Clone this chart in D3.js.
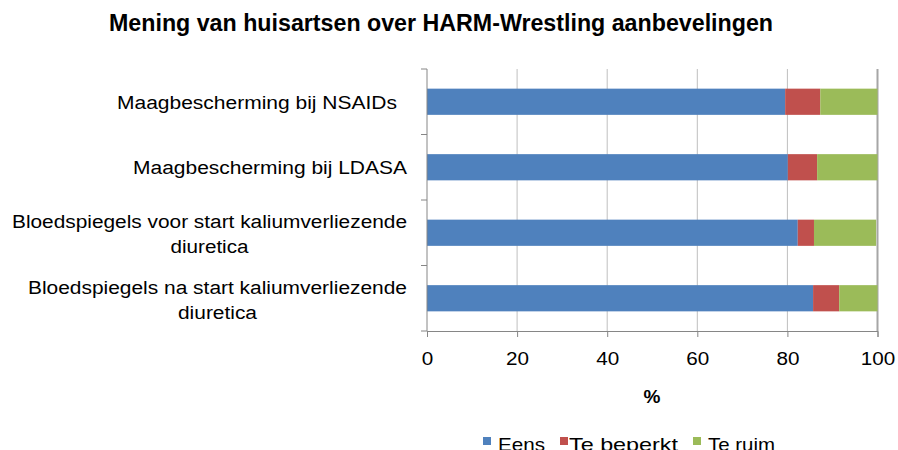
<!DOCTYPE html>
<html>
<head>
<meta charset="utf-8">
<script src="https://cdn.jsdelivr.net/npm/d3@7"></script>
<style>
  body { margin: 0; background: #fff; }
  svg text { font-family: "Liberation Sans", Arial, sans-serif; fill: #000; }
</style>
</head>
<body>
<svg width="898" height="450"></svg>
<script>
const categories = [
  "Maagbescherming bij NSAIDs ",
  "Maagbescherming bij LDASA",
  "Bloedspiegels voor start kaliumverliezende diuretica",
  "Bloedspiegels na start kaliumverliezende diuretica"
];
const labelLines = [
  ["Maagbescherming bij NSAIDs"],
  ["Maagbescherming bij LDASA"],
  ["Bloedspiegels voor start kaliumverliezende", "diuretica"],
  ["Bloedspiegels na start kaliumverliezende", "diuretica"]
];
const seriesNames = ["Eens", "Te beperkt", "Te ruim"];
const eens = [79.5, 80.1, 82.3, 85.7];
const teBeperkt = [7.8, 6.5, 3.6, 5.8];
const teRuim = [12.7, 13.4, 13.8, 8.5];
const xTicks = [0, 20, 40, 60, 80, 100];
const colors = ["#4F81BD", "#C0504D", "#9BBB59"];

const svg = d3.select("svg");

const x = d3.scaleLinear().domain([0, 100]).range([427, 877.5]);
const y = d3.scaleBand().domain(categories).range([69, 331]).paddingInner(0.6).paddingOuter(0.3);

// stretch a text element so it spans a given width (the reference font is wider)
function fitWidth(sel, w) {
  sel.attr("textLength", w).attr("lengthAdjust", "spacingAndGlyphs");
}

// title
svg.append("text")
  .attr("x", 441).attr("y", 31)
  .attr("text-anchor", "middle")
  .attr("textLength", 664)
  .attr("lengthAdjust", "spacingAndGlyphs")
  .style("font-weight", "bold")
  .style("font-size", "23px")
  .text("Mening van huisartsen over HARM-Wrestling aanbevelingen");

// gridlines
svg.append("g")
  .selectAll("line")
  .data(xTicks.slice(1))
  .enter().append("line")
  .attr("x1", d => x(d)).attr("x2", d => x(d))
  .attr("y1", 69).attr("y2", 331)
  .attr("stroke", d => d === 100 ? "#A6A6A6" : "#BFBFBF")
  .attr("stroke-width", d => d === 100 ? 2 : 1);

// stacked bars
const rows = categories.map((c, i) => ({cat: c, Eens: eens[i], "Te beperkt": teBeperkt[i], "Te ruim": teRuim[i]}));
const stack = d3.stack().keys(seriesNames)(rows);

svg.append("g")
  .selectAll("g")
  .data(stack)
  .enter().append("g")
  .attr("fill", (d, i) => colors[i])
  .selectAll("rect")
  .data(d => d)
  .enter().append("rect")
  .attr("x", d => x(d[0]))
  .attr("y", d => y(d.data.cat))
  .attr("width", d => x(d[1]) - x(d[0]))
  .attr("height", y.bandwidth());

// y axis line and ticks at category boundaries
const yAxis = svg.append("g");
yAxis.append("line")
  .attr("x1", 427).attr("x2", 427).attr("y1", 69).attr("y2", 331)
  .attr("stroke", "#868686");
const bounds = d3.range(categories.length + 1).map(i => 69 + i * (262 / categories.length));
yAxis.selectAll(".yt")
  .data(bounds)
  .enter().append("line")
  .attr("class", "yt")
  .attr("x1", 421).attr("x2", 427)
  .attr("y1", d => d).attr("y2", d => d)
  .attr("stroke", "#868686");

// category labels, wrapped lines centred on each other like excel does
const lineWidths = [[280], [274], [395, 78], [379, 79]];
const labelRight = [397, 407, 407, 407];
categories.forEach((c, i) => {
  const lines = labelLines[i];
  const cy = y(c) + y.bandwidth() / 2;
  const lh = 25;
  const blockW = lineWidths[i][0];
  const cx = labelRight[i] - blockW / 2;
  lines.forEach((ln, j) => {
    svg.append("text")
      .attr("x", cx)
      .attr("y", cy + 7 + (j - (lines.length - 1) / 2) * lh + (lines.length > 1 ? 1 : 0))
      .attr("text-anchor", "middle")
      .style("font-size", "18px")
      .text(ln)
      .call(fitWidth, lineWidths[i][j]);
  });
});

// x axis
const xAxis = svg.append("g").attr("transform", "translate(0,331)")
  .call(d3.axisBottom(x).tickValues(xTicks).tickSize(6).tickPadding(15));
xAxis.select(".domain").attr("stroke", "#868686");
xAxis.selectAll(".tick line").attr("stroke", "#868686");
xAxis.selectAll(".tick text")
  .style("font-size", "18px")
  .style("font-family", "'Liberation Sans', Arial, sans-serif")
  .each(function(d) {
    d3.select(this).call(fitWidth, String(d).length * 11.5);
  });

svg.append("text")
  .attr("x", 652).attr("y", 403)
  .attr("text-anchor", "middle")
  .style("font-size", "19px")
  .style("font-weight", "bold")
  .text("%");

// legend
const legendX = [483, 560, 693];
const legendW = [47, 109, 67];
const legend = svg.append("g");
seriesNames.forEach((s, i) => {
  legend.append("rect")
    .attr("x", legendX[i]).attr("y", 437)
    .attr("width", 8).attr("height", 8)
    .attr("fill", colors[i]);
  legend.append("text")
    .attr("x", legendX[i] + 15 - (i === 1 ? 6 : 0)).attr("y", 451)
    .style("font-size", "19px")
    .text(s)
    .call(fitWidth, legendW[i]);
});
</script>
</body>
</html>
